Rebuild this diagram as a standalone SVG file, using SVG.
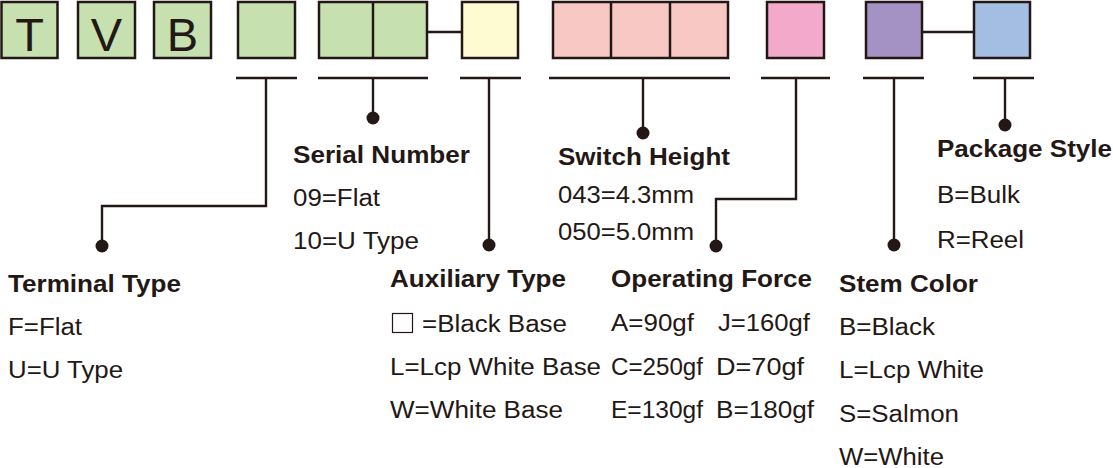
<svg xmlns="http://www.w3.org/2000/svg" width="1113" height="468" viewBox="0 0 1113 468">
<style>
.box{stroke:#231815;stroke-width:2.5}
.g{fill:#c6e0b0}.y{fill:#fefbd2}.p{fill:#f8c8c4}.m{fill:#f3a9c9}.v{fill:#a592c4}.b{fill:#a3bde3}
.ln{stroke:#231815;stroke-width:2.4;fill:none}
.bar{stroke:#231815;stroke-width:2.5}
.dot{fill:#231815}
text{font-family:"Liberation Sans",Arial,sans-serif;fill:#231815}
.big{font-size:47px;text-anchor:middle}
.h{font-size:24.5px;font-weight:bold}
.t{font-size:23.5px}
</style>
<g id="code">
<g id="box-T"><rect class="box g" x="1.5" y="2" width="56" height="56"/><text class="big" x="29.5" y="51">T</text></g>
<g id="box-V"><rect class="box g" x="78" y="2" width="57" height="56"/><text class="big" x="106.5" y="51">V</text></g>
<g id="box-B"><rect class="box g" x="154" y="2" width="57" height="56"/><text class="big" x="182.5" y="51">B</text></g>
<g id="box-terminal"><rect class="box g" x="238" y="2" width="57" height="56"/></g>
<g id="box-serial"><rect class="box g" x="319" y="2" width="108" height="56"/><line class="bar" x1="373" y1="2" x2="373" y2="58"/></g>
<g id="box-aux"><rect class="box y" x="462" y="2" width="56" height="56"/></g>
<g id="box-height"><rect class="box p" x="553" y="2" width="175" height="56"/><line class="bar" x1="611" y1="2" x2="611" y2="58"/><line class="bar" x1="670" y1="2" x2="670" y2="58"/></g>
<g id="box-force"><rect class="box m" x="767" y="2" width="57" height="56"/></g>
<g id="box-stem"><rect class="box v" x="866" y="2" width="56" height="56"/></g>
<g id="box-package"><rect class="box b" x="974" y="2" width="56" height="56"/></g>
</g>
<g id="connectors">
<line class="ln" x1="427" y1="32" x2="462" y2="32"/>
<line class="ln" x1="922" y1="32" x2="974" y2="32"/>
<line class="bar" x1="236" y1="78" x2="297" y2="78"/>
<line class="bar" x1="318" y1="78" x2="428" y2="78"/>
<line class="bar" x1="460" y1="78" x2="521" y2="78"/>
<line class="bar" x1="549" y1="78" x2="730" y2="78"/>
<line class="bar" x1="761" y1="78" x2="830" y2="78"/>
<line class="bar" x1="863" y1="78" x2="924" y2="78"/>
<line class="bar" x1="973" y1="78" x2="1034" y2="78"/>
<path class="ln" d="M266 78V206H102V246"/>
<path class="ln" d="M373 78V118"/>
<path class="ln" d="M489 78V245"/>
<path class="ln" d="M643 78V133"/>
<path class="ln" d="M796 78V199H716V246"/>
<path class="ln" d="M894 78V245"/>
<path class="ln" d="M1005 78V125"/>
<circle class="dot" cx="102" cy="246" r="6.5"/>
<circle class="dot" cx="373" cy="118" r="6.5"/>
<circle class="dot" cx="489" cy="245" r="6.5"/>
<circle class="dot" cx="643" cy="133" r="6.5"/>
<circle class="dot" cx="716" cy="246" r="6.5"/>
<circle class="dot" cx="894" cy="245" r="6.5"/>
<circle class="dot" cx="1005" cy="125" r="6.5"/>
</g>
<g id="terminal-type">
<text class="h" x="8" y="292" textLength="173" lengthAdjust="spacingAndGlyphs">Terminal Type</text>
<text class="t" x="8" y="335" textLength="74" lengthAdjust="spacingAndGlyphs">F=Flat</text>
<text class="t" x="8" y="378" textLength="115" lengthAdjust="spacingAndGlyphs">U=U Type</text>
</g>
<g id="serial-number">
<text class="h" x="293" y="163" textLength="177" lengthAdjust="spacingAndGlyphs">Serial Number</text>
<text class="t" x="293" y="206" textLength="87" lengthAdjust="spacingAndGlyphs">09=Flat</text>
<text class="t" x="293" y="249" textLength="126" lengthAdjust="spacingAndGlyphs">10=U Type</text>
</g>
<g id="auxiliary-type">
<text class="h" x="390" y="287" textLength="176" lengthAdjust="spacingAndGlyphs">Auxiliary Type</text>
<rect x="392.5" y="313.5" width="20" height="19" fill="none" stroke="#231815" stroke-width="1.2"/>
<text class="t" x="422" y="332" textLength="145" lengthAdjust="spacingAndGlyphs">=Black Base</text>
<text class="t" x="390" y="375" textLength="211" lengthAdjust="spacingAndGlyphs">L=Lcp White Base</text>
<text class="t" x="390" y="418" textLength="173" lengthAdjust="spacingAndGlyphs">W=White Base</text>
</g>
<g id="switch-height">
<text class="h" x="558" y="165" textLength="172" lengthAdjust="spacingAndGlyphs">Switch Height</text>
<text class="t" x="558" y="203" textLength="136" lengthAdjust="spacingAndGlyphs">043=4.3mm</text>
<text class="t" x="558" y="240" textLength="136" lengthAdjust="spacingAndGlyphs">050=5.0mm</text>
</g>
<g id="operating-force">
<text class="h" x="611" y="287" textLength="201" lengthAdjust="spacingAndGlyphs">Operating Force</text>
<text class="t" x="611" y="331" textLength="83" lengthAdjust="spacingAndGlyphs">A=90gf</text>
<text class="t" x="718" y="331" textLength="92" lengthAdjust="spacingAndGlyphs">J=160gf</text>
<text class="t" x="611" y="375" textLength="92" lengthAdjust="spacingAndGlyphs">C=250gf</text>
<text class="t" x="716" y="375" textLength="88" lengthAdjust="spacingAndGlyphs">D=70gf</text>
<text class="t" x="611" y="418" textLength="92" lengthAdjust="spacingAndGlyphs">E=130gf</text>
<text class="t" x="716" y="418" textLength="98" lengthAdjust="spacingAndGlyphs">B=180gf</text>
</g>
<g id="stem-color">
<text class="h" x="839" y="292" textLength="139" lengthAdjust="spacingAndGlyphs">Stem Color</text>
<text class="t" x="839" y="335" textLength="96" lengthAdjust="spacingAndGlyphs">B=Black</text>
<text class="t" x="839" y="378" textLength="145" lengthAdjust="spacingAndGlyphs">L=Lcp White</text>
<text class="t" x="839" y="422" textLength="120" lengthAdjust="spacingAndGlyphs">S=Salmon</text>
<text class="t" x="839" y="465" textLength="105" lengthAdjust="spacingAndGlyphs">W=White</text>
</g>
<g id="package-style">
<text class="h" x="937" y="157" textLength="175" lengthAdjust="spacingAndGlyphs">Package Style</text>
<text class="t" x="937" y="203" textLength="83" lengthAdjust="spacingAndGlyphs">B=Bulk</text>
<text class="t" x="937" y="248" textLength="87" lengthAdjust="spacingAndGlyphs">R=Reel</text>
</g>
</svg>
